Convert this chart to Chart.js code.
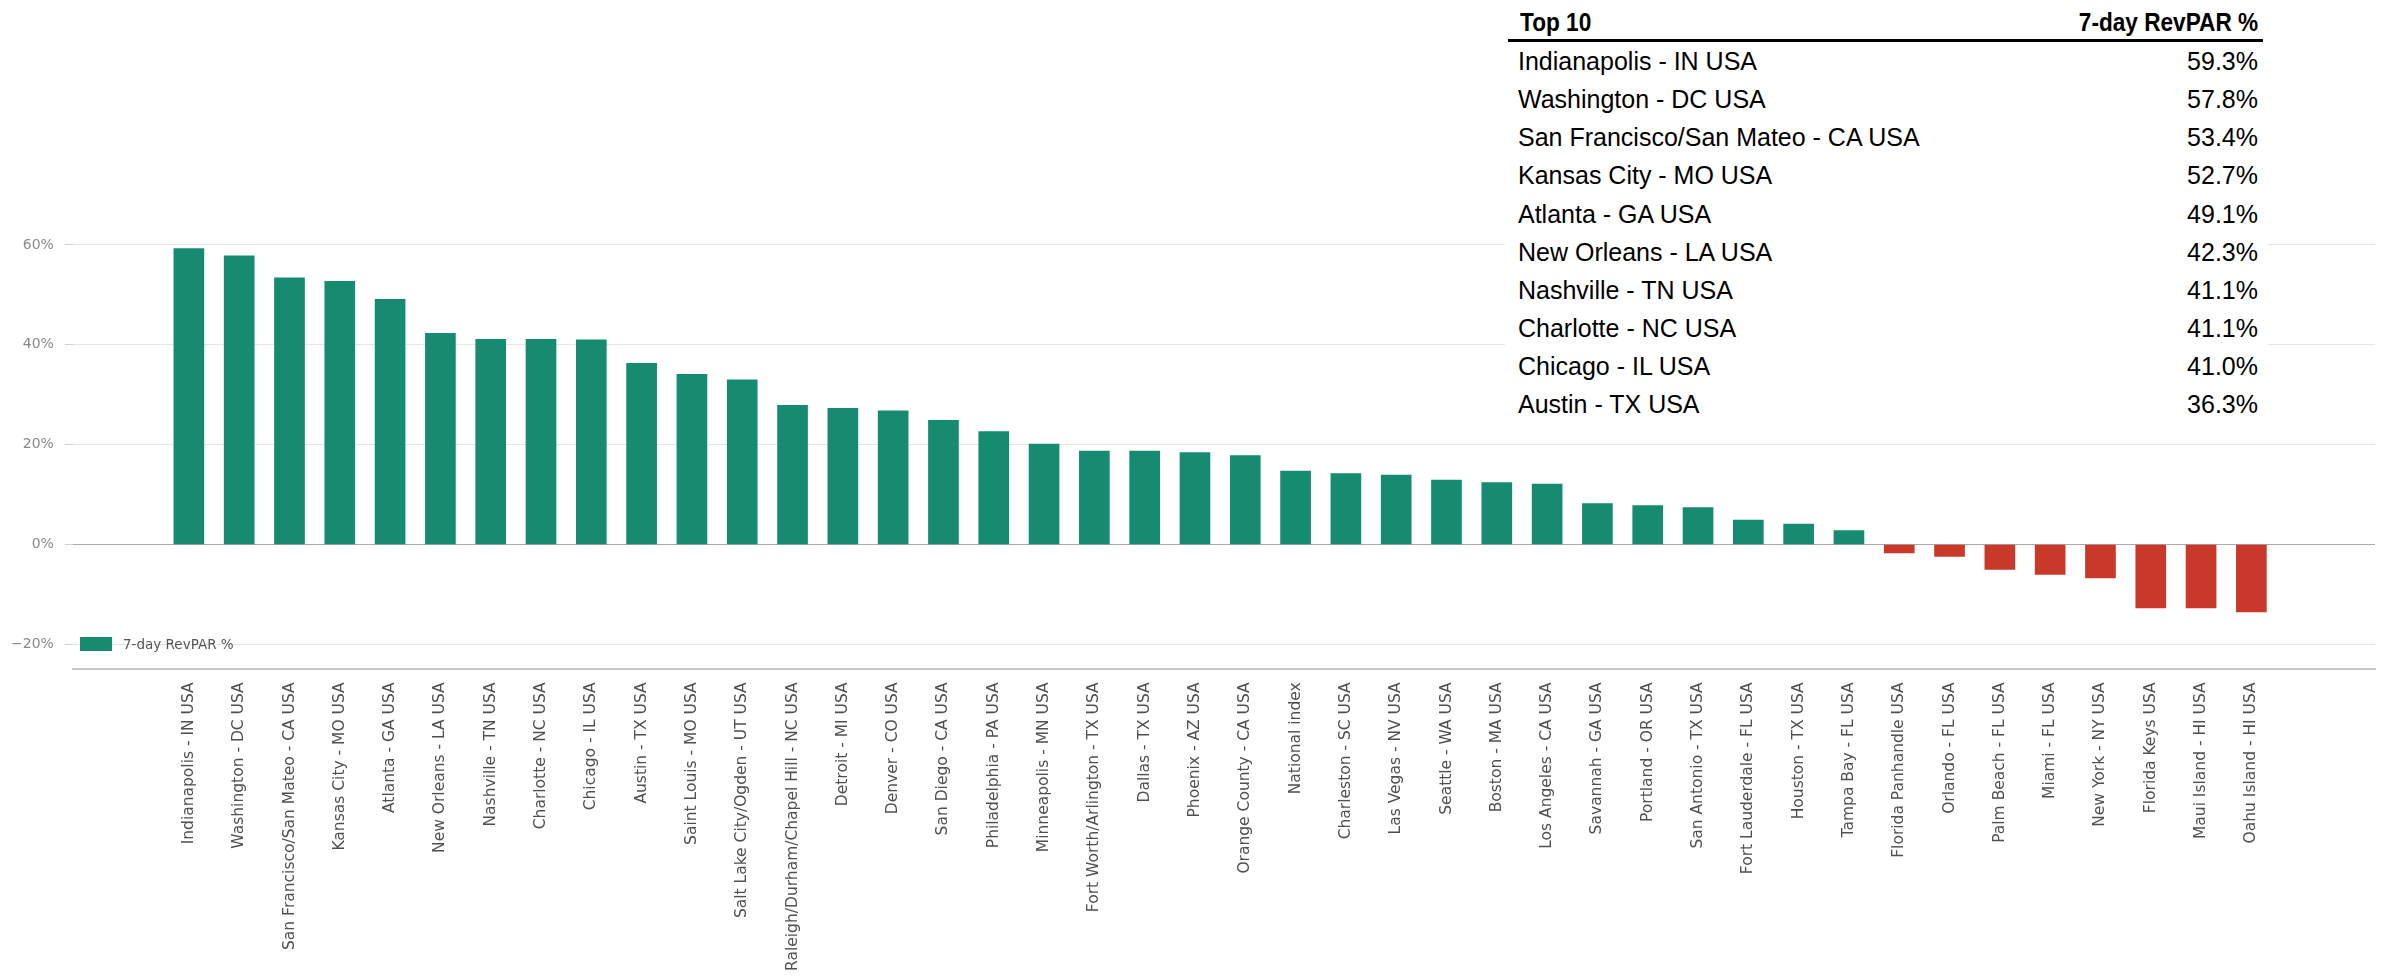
<!DOCTYPE html>
<html>
<head>
<meta charset="utf-8">
<title>7-day RevPAR %</title>
<script src="https://cdn.jsdelivr.net/npm/chart.js@4.4.1/dist/chart.umd.min.js"></script>
<style>
    html, body { margin: 0; padding: 0; background: #fff; }
    #wrap { position: relative; width: 2382px; height: 978px; overflow: hidden; }
    #chartBox { position: absolute; left: 0; top: 0; width: 2382px; height: 978px; }
    #top10 {
        position: absolute; left: 1505px; top: 0; width: 763px;
        background: #fff; padding-top: 2px; padding-bottom: 4px;
        font-family: "Liberation Sans", Arial, sans-serif; color: #000;
    }
    #top10 .head {
        margin: 0 5px 0 3px; padding: 3px 5px 0 12px;
        line-height: 34px; font-size: 26px; font-weight: bold;
        border-bottom: 3px solid #000;
        display: flex; justify-content: space-between;
    }
    #top10 .head span { display: inline-block; transform: scaleX(0.87); }
    #top10 .head span:first-child { transform-origin: left center; }
    #top10 .head span:last-child { transform-origin: right center; }
    #top10 .row {
        margin: 0 5px 0 3px; padding: 0 5px 0 10px;
        line-height: 38.15px; font-size: 25px;
        display: flex; justify-content: space-between;
    }
    #legend {
        position: absolute; left: 80px; top: 636px;
        font-family: "DejaVu Sans", sans-serif; font-size: 13.5px; color: #555;
        display: flex; align-items: center; white-space: nowrap;
    }
    #legend .swatch { width: 32px; height: 14px; margin-right: 11px; }
</style>
</head>
<body>
<div id="wrap">
    <div id="chartBox"><canvas id="revparChart"></canvas></div>
    <div id="legend"></div>
    <div id="top10"></div>
</div>
<script>
"use strict";

// markets, sorted by 7-day RevPAR change
const cities = [
    "Indianapolis - IN USA", "Washington - DC USA", "San Francisco/San Mateo - CA USA",
    "Kansas City - MO USA", "Atlanta - GA USA", "New Orleans - LA USA", "Nashville - TN USA",
    "Charlotte - NC USA", "Chicago - IL USA", "Austin - TX USA", "Saint Louis - MO USA",
    "Salt Lake City/Ogden - UT USA", "Raleigh/Durham/Chapel Hill - NC USA", "Detroit - MI USA",
    "Denver - CO USA", "San Diego - CA USA", "Philadelphia - PA USA", "Minneapolis - MN USA",
    "Fort Worth/Arlington - TX USA", "Dallas - TX USA", "Phoenix - AZ USA",
    "Orange County - CA USA", "National index", "Charleston - SC USA", "Las Vegas - NV USA",
    "Seattle - WA USA", "Boston - MA USA", "Los Angeles - CA USA", "Savannah - GA USA",
    "Portland - OR USA", "San Antonio - TX USA", "Fort Lauderdale - FL USA", "Houston - TX USA",
    "Tampa Bay - FL USA", "Florida Panhandle USA", "Orlando - FL USA", "Palm Beach - FL USA",
    "Miami - FL USA", "New York - NY USA", "Florida Keys USA", "Maui Island - HI USA",
    "Oahu Island - HI USA"
];

const revpar = [
    59.3, 57.8, 53.4, 52.7, 49.1, 42.3, 41.1, 41.1, 41.0, 36.3,
    34.1, 33.0, 27.9, 27.3, 26.8, 24.9, 22.6, 20.1, 18.7, 18.7,
    18.4, 17.8, 14.7, 14.2, 13.9, 12.9, 12.4, 12.1, 8.2, 7.8,
    7.4, 4.9, 4.1, 2.8, -1.7, -2.4, -5.0, -6.0, -6.7, -12.7,
    -12.7, -13.5
];

const yTicks = [-20, 0, 20, 40, 60];
const seriesLabel = "7-day RevPAR %";
const tableHeader = ["Top 10", "7-day RevPAR %"];

const GREEN = "#178b6f";
const RED = "#c9392a";

(function() {
    function fmtPct(v) {
        return (v < 0 ? "\u2212" : "") + Math.abs(v) + "%";
    }

    function buildTable() {
        let box = document.getElementById("top10");
        let html = `<div class="head"><span>${tableHeader[0]}</span><span>${tableHeader[1]}</span></div>`;
        for (let i = 0; i < 10; i++) {
            html += `<div class="row"><span>${cities[i]}</span><span>${revpar[i].toFixed(1)}%</span></div>`;
        }
        box.innerHTML = html;
    }

    function buildLegend() {
        let lg = document.getElementById("legend");
        lg.innerHTML = `<span class="swatch" style="background:${GREEN}"></span><span>${seriesLabel}</span>`;
    }

    function chartDraw() {
        Chart.defaults.font.family = "'DejaVu Sans', sans-serif";
        let ctx = document.getElementById("revparChart").getContext("2d");
        new Chart(ctx, {
            type: "bar",
            data: {
                datasets: [{
                    label: seriesLabel,
                    data: revpar.map((v, i) => ({ x: i, y: v })),
                    backgroundColor: (c) => (c.parsed && c.parsed.y < 0) ? RED : GREEN,
                    borderWidth: 0,
                    barThickness: 30,
                }],
            },
            options: {
                responsive: true,
                maintainAspectRatio: false,
                animation: false,
                layout: { padding: { left: 0, right: 7, top: 220, bottom: 2 } },
                plugins: {
                    legend: { display: false },
                    tooltip: { enabled: false },
                },
                scales: {
                    x: {
                        type: "linear",
                        min: -1.809,
                        max: 42.96,
                        grid: { display: false, drawTicks: true, tickLength: 8 },
                        border: { display: true, color: "#c8c8c8", width: 2 },
                        ticks: {
                            stepSize: 1,
                            includeBounds: true,
                            autoSkip: false,
                            minRotation: 90,
                            maxRotation: 90,
                            padding: 5,
                            color: "#505050",
                            font: { size: 15.5 },
                            callback: (v) => cities[v] || "",
                        },
                    },
                    y: {
                        bounds: "data",
                        min: -25,
                        max: 65,
                        afterBuildTicks: (scale) => {
                            scale.ticks = yTicks.map((v) => ({ value: v }));
                        },
                        grid: {
                            color: (c) => (c.tick && c.tick.value === 0) ? "#ababab" : "#e6e6e6",
                            tickColor: "#d0d0d0",
                            tickLength: 8,
                        },
                        border: { display: false },
                        ticks: {
                            padding: 11,
                            color: "#8a8a8a",
                            font: { size: 14 },
                            callback: (v) => fmtPct(v),
                        },
                    },
                },
            },
        });
    }

    buildTable();
    buildLegend();
    chartDraw();
})();
</script>
</body>
</html>
